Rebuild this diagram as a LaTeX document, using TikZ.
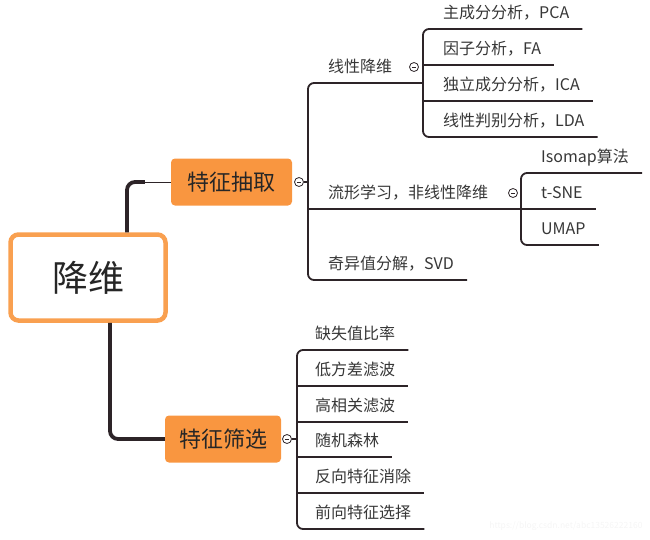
\documentclass[tikz,border=0pt]{standalone}
\usepackage{fontspec}
\newfontfamily\cjk{Noto Sans CJK SC}
\definecolor{mmorange}{RGB}{249,150,64}
\definecolor{mmborder}{RGB}{249,160,80}
\definecolor{mmline}{RGB}{45,36,40}
\definecolor{mmtext}{RGB}{55,55,55}

\begin{document}
\begin{tikzpicture}[x=1pt,y=1pt,yscale=-1,xscale=1,
	root/.style={draw=mmborder,line width=4.5pt,rounded corners=8pt,fill=white,minimum width=155pt,minimum height=86pt,font=\cjk\fontsize{36}{40}\selectfont,text=black!85},
	topic/.style={fill=mmorange,rounded corners=4pt,minimum height=47pt,font=\cjk\fontsize{22}{26}\selectfont,text=black!85},
	leaf/.style={anchor=south west,inner xsep=13pt,inner ysep=10pt,text depth=0pt,font=\cjk\fontsize{16}{19}\selectfont,text=mmtext},
	trunk/.style={draw=mmline,line width=3.8pt,rounded corners=8pt},
	branch/.style={draw=mmline,line width=1.8pt,rounded corners=6pt},
	toggle/.style={circle,draw=mmline,fill=white,line width=0.8pt,inner sep=0pt,minimum size=9pt,
		path picture={\draw[line width=0.6pt] ([xshift=-2.2pt]path picture bounding box.center) -- ([xshift=2.2pt]path picture bounding box.center);}}]
	\useasboundingbox (0,0) rectangle (650,539);

	% Text Node
	\node[font=\cjk\fontsize{8.5}{10}\selectfont,text=black!4,anchor=east] (url) at (646,526) {https://blog.csdn.net/abc13526222160};

	%Shape: Root
	\node[root] (root) at (88,277.5) {降维};
	%Shape: Topics
	\node[topic,minimum width=121pt] (fe) at (231.5,182) {特征抽取};
	\node[topic,minimum width=116pt] (fs) at (223,439) {特征筛选};

	%Straight Lines: trunk
	\draw[trunk] ([xshift=39pt]root.north) |- ([xshift=-26pt]fe.west);
	\draw[mmline,line width=1pt] ([xshift=-30pt]fe.west) -- (fe.west);
	\draw[trunk] ([xshift=22pt]root.south) |- (fs.west);

	% joints
	\coordinate (fek) at (308,182);
	\coordinate (ldk) at (423,83);
	\coordinate (mfk) at (521,209);
	\coordinate (fsk) at (297,439);

	% Text Node: feature extraction
	\node[leaf] (lin) at (315,83) {线性降维};
	\node[leaf] (mf) at (315,209) {流形学习，非线性降维};
	\node[leaf] (svd) at (315,280) {奇异值分解，SVD};

	\node[leaf] (pca) at (430,29) {主成分分析，PCA};
	\node[leaf] (fa) at (430,65) {因子分析，FA};
	\node[leaf] (ica) at (430,101) {独立成分分析，ICA};
	\node[leaf] (lda) at (430,137) {线性判别分析，LDA};

	\node[leaf] (iso) at (528,173) {Isomap算法};
	\node[leaf] (tsne) at (528,209) {t-SNE};
	\node[leaf] (umap) at (528,245) {UMAP};

	% Text Node: feature selection
	\node[leaf] (fs1) at (302,350) {缺失值比率};
	\node[leaf] (fs2) at (302,386) {低方差滤波};
	\node[leaf] (fs3) at (302,422) {高相关滤波};
	\node[leaf] (fs4) at (302,457) {随机森林};
	\node[leaf] (fs5) at (302,493) {反向特征消除};
	\node[leaf] (fs6) at (302,529) {前向特征选择};

	%Straight Lines: branches
	\draw[branch] (ldk) -- (lin.south -| fek) -- (svd.south -| fek) -- (svd.south east);
	\draw[branch] (mfk) -- (mf.south -| fek);

	\draw[branch] (pca.south east) -- (pca.south -| ldk) -- (lda.south -| ldk) -- (lda.south east);
	\draw[branch] (fa.south -| ldk) -- (fa.south east);
	\draw[branch] (ica.south -| ldk) -- (ica.south east);

	\draw[branch] (iso.south east) -- (iso.south -| mfk) -- (umap.south -| mfk) -- (umap.south east);
	\draw[branch] (tsne.south -| mfk) -- (tsne.south east);

	\draw[branch] (fs1.south east) -- (fs1.south -| fsk) -- (fs6.south -| fsk) -- (fs6.south east);
	\foreach \n in {fs2,fs3,fs4,fs5}
		\draw[branch] (\n.south -| fsk) -- (\n.south east);

	%Shape: Circle toggles
	\node[toggle] (fet) at (299,182) {};
	\node[toggle] (fst) at (287,439) {};
	\node[toggle] (lint) at (414,67) {};
	\node[toggle] (mft) at (513,193) {};
	\draw[branch] (fet) -- (fek);
	\draw[branch] (fst) -- (fsk);

\end{tikzpicture}
\end{document}
